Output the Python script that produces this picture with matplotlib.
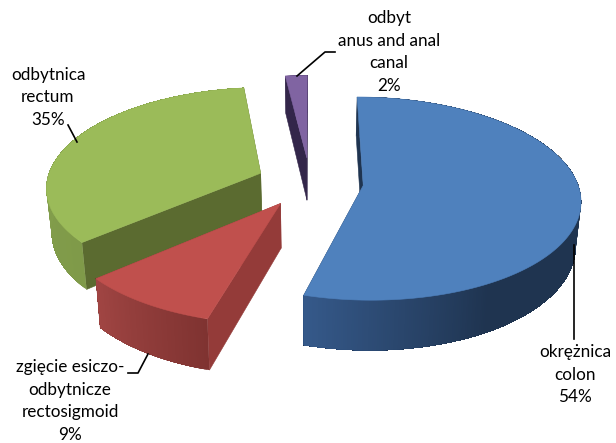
import numpy as np
import matplotlib
matplotlib.use('Agg')
import matplotlib.pyplot as plt
from matplotlib.colors import to_rgb

plt.rcParams['font.family'] = ['Lato', 'DejaVu Sans']

# clockwise from the top
names = ['okrężnica\ncolon', 'zgięcie esiczo-\nodbytnicze\nrectosigmoid', 'odbytnica\nrectum', 'odbyt\nanus and anal\ncanal']
values = [54.4, 9.2, 34.5, 1.9]
percent_labels = ['54%', '9%', '35%', '2%']

top_colors = ['#4f81bd', '#c0504d', '#9bbb59', '#8064a2']
wall_colors = ['#1f3450', '#943b39', '#5b6b30', '#33264a']
# rim shade at the start and at the end of each slice
rim_colors = [('#1f3450', '#35598a'), ('#7f3331', '#a04543'), ('#7f9a49', '#8aa650'), ('#33264a', '#33264a')]
# where along the slice the shade starts to change
rim_breaks = [0.77, 0.0, 0.0, 0.0]

# projection of the tilted disk, in pixels
cx, cy = 310, 182
R, K = 214, 99
persp = 0.129
depth = 43.5
shrink = 0.98
explode = 0.25


def project(u, v):
    w = 1 - persp * v
    return cx + R * u / w, cy + K * v / w


def lower(x, v):
    # bottom face of the pie, a bit further from the camera
    return cx + (x - cx) * shrink, depth / (1 - persp * v)


def slice_points(a1, a2):
    mid = np.radians((a1 + a2) / 2)
    off_u, off_v = explode * np.sin(mid), -explode * np.cos(mid)
    ang = np.radians(np.linspace(a1, a2, int(abs(a2 - a1) * 2) + 2))
    u = off_u + np.sin(ang)
    v = off_v - np.cos(ang)
    return off_u, off_v, u, v


def draw_slice(ax, a1, a2, top, wall, rim, brk):
    off_u, off_v, u, v = slice_points(a1, a2)
    ax0, ay0 = project(off_u, off_v)
    x, y = project(u, v)

    # radial walls, back one first
    walls = [(u[0], v[0]), (u[-1], v[-1])]
    walls.sort(key=lambda p: p[1])
    bx0, dy0 = lower(ax0, off_v)
    for eu, ev in walls:
        ex, ey = project(eu, ev)
        bx, dy = lower(ex, ev)
        ax.fill([ax0, ex, bx, bx0], [ay0, ey, ey + dy, ay0 + dy0], color=wall, lw=0.4, zorder=2)

    # outer rim, each strip runs to the end of the slice so no seams show
    c1, c2 = np.array(to_rgb(rim[0])), np.array(to_rgb(rim[1]))
    bx, dy = lower(x, v)
    n = len(x) - 1
    for i in range(n):
        t = i / max(n - 1, 1)
        t = max(t - brk, 0) / (1 - brk)
        c = c1 + (c2 - c1) * t
        ax.fill(np.r_[x[i:], bx[i:][::-1]],
                np.r_[y[i:], (y[i:] + dy[i:])[::-1]],
                color=c, lw=0, zorder=2)

    ax.fill(np.r_[ax0, x], np.r_[ay0, y], color=top, lw=0.4, zorder=2)


fig = plt.figure(figsize=(6.16, 4.43), dpi=100)
ax = fig.add_axes([0, 0, 1, 1])
ax.set_xlim(0, 616)
ax.set_ylim(443, 0)
ax.axis('off')

edges = np.r_[0, np.cumsum(values)] * 3.6
for i in [3, 2, 0, 1]:
    draw_slice(ax, edges[i], edges[i + 1], top_colors[i], wall_colors[i], rim_colors[i], rim_breaks[i])

# leader lines
ax.plot([574, 574], [245, 339], color='black', lw=1.2, zorder=3)
ax.plot([128, 138, 148], [373, 373, 354], color='black', lw=1.2, zorder=3)
ax.plot([68, 77], [125, 142], color='black', lw=1.2, zorder=3)
ax.plot([335, 325, 297], [52, 52, 76], color='black', lw=1.2, zorder=3)

label_pos = [(575, 375), (70, 401), (48, 97), (389, 52)]
for name, pct, (lx, ly) in zip(names, percent_labels, label_pos):
    ax.text(lx, ly, f'{name}\n{pct}', ha='center', va='center', fontsize=12.3,
            linespacing=1.5, color='black', zorder=4)

fig.savefig('out.png', dpi=100)
